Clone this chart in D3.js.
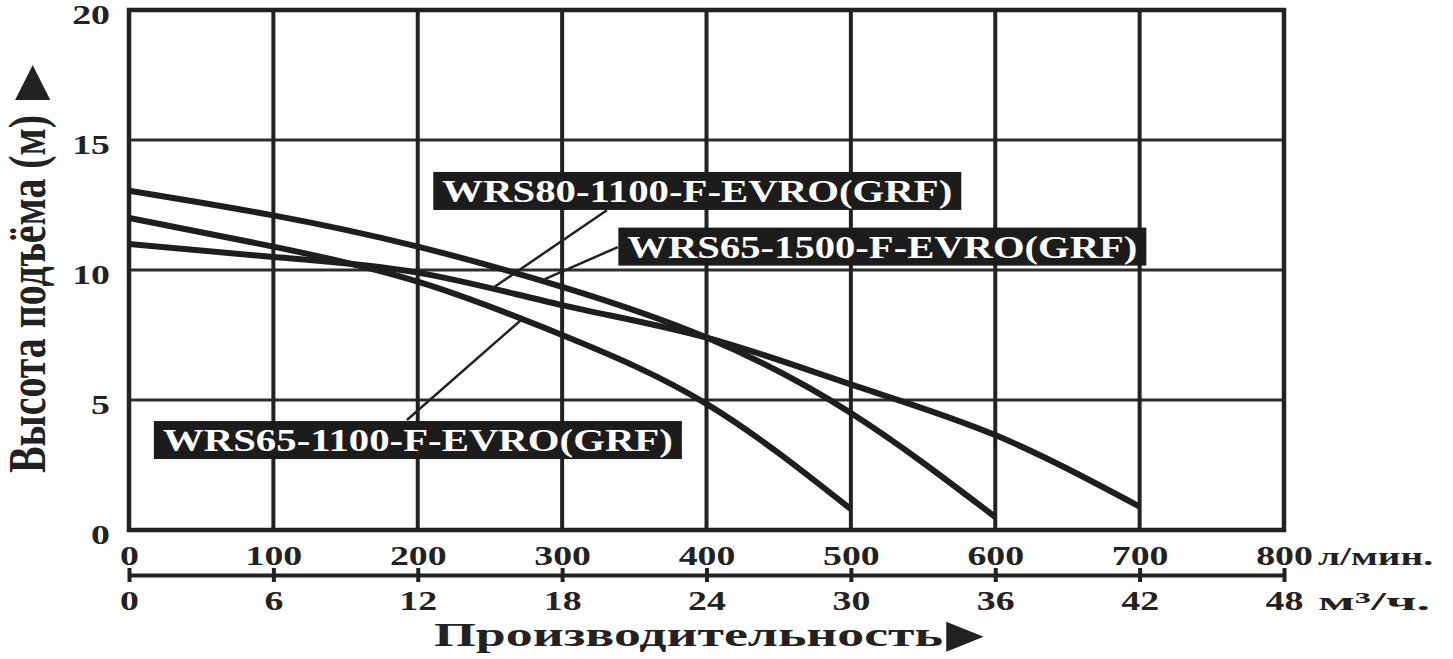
<!DOCTYPE html>
<html>
<head>
<meta charset="utf-8">
<script src="https://cdn.jsdelivr.net/npm/d3@7/dist/d3.min.js"></script>
<style>
  html, body { margin: 0; padding: 0; background: #fff; }
  svg { display: block; }
  text { font-family: "Liberation Serif", "Times New Roman", serif; font-weight: bold; }
</style>
</head>
<body>
<svg id="chart" width="1453" height="659"></svg>
<script>
// ---------------- DATA ----------------
const flowTicksLmin = [0, 100, 200, 300, 400, 500, 600, 700, 800];
const flowTicksM3h  = [0, 6, 12, 18, 24, 30, 36, 42, 48];
const headTicks     = [0, 5, 10, 15, 20];

const seriesNames = ["WRS80-1100-F-EVRO(GRF)", "WRS65-1500-F-EVRO(GRF)", "WRS65-1100-F-EVRO(GRF)"];

const flow_WRS80_1100 = [0, 100, 200, 300, 400, 500, 600, 700];
const head_WRS80_1100 = [11.0, 10.5, 9.9, 8.65, 7.4, 5.6, 3.65, 0.9];

const flow_WRS65_1500 = [0, 100, 200, 300, 400, 500, 600];
const head_WRS65_1500 = [13.05, 12.1, 10.9, 9.35, 7.4, 4.5, 0.5];

const flow_WRS65_1100 = [0, 100, 200, 300, 400, 500];
const head_WRS65_1100 = [12.0, 10.9, 9.55, 7.5, 4.85, 0.8];

const unitLmin = "л/мин.";
const unitM3h  = "м³/ч.";
const xTitle = "Производительность";
const xArrow = "►";
const yTitle = "Высота подъёма (м)";
const yArrow = "▲";

// ---------------- LAYOUT ----------------
(function () {
const svg = d3.select("#chart");
const pLeft = 129, pRight = 1284, pTop = 10, pBottom = 530;
const ink = "#222";
const SX = 1.4; // horizontal stretch of the original lettering

const x  = d3.scaleLinear().domain([0, 800]).range([pLeft, pRight]);
const x2 = d3.scaleLinear().domain([0, 48]).range([pLeft, pRight]);
const y  = d3.scaleLinear().domain([0, 20]).range([pBottom, pTop]);

// grid
const grid = svg.append("g");
grid.selectAll("line.h").data(headTicks).join("line")
  .attr("x1", pLeft).attr("x2", pRight)
  .attr("y1", d => y(d)).attr("y2", d => y(d))
  .attr("stroke", "#2e2e2e").attr("stroke-width", 3);
grid.selectAll("line.v").data(flowTicksLmin).join("line")
  .attr("y1", pTop).attr("y2", pBottom)
  .attr("x1", d => x(d)).attr("x2", d => x(d))
  .attr("stroke", ink).attr("stroke-width", 4);
grid.append("rect")
  .attr("x", pLeft).attr("y", pTop)
  .attr("width", pRight - pLeft).attr("height", pBottom - pTop)
  .attr("fill", "none").attr("stroke", ink).attr("stroke-width", 4.5);

// curves
const allSeries = [
  flow_WRS80_1100.map((f, i) => [f, head_WRS80_1100[i]]),
  flow_WRS65_1500.map((f, i) => [f, head_WRS65_1500[i]]),
  flow_WRS65_1100.map((f, i) => [f, head_WRS65_1100[i]])
];
const line = d3.line().x(d => x(d[0])).y(d => y(d[1])).curve(d3.curveNatural);
svg.append("g").selectAll("path").data(allSeries).join("path")
  .attr("d", line)
  .attr("fill", "none").attr("stroke", "#1e1e1e").attr("stroke-width", 6);

// annotations (label centre and leader line in data units)
const annotations = [
  { name: seriesNames[0], cx: 393.6, cy: 13.04, from: [331, 12.3],  to: [250, 9.23] },
  { name: seriesNames[1], cx: 521.8, cy: 10.9,  from: [338.6, 10.88], to: [288, 9.65] },
  { name: seriesNames[2], cx: 200.1, cy: 3.46,  from: [192.5, 4.23], to: [271, 8.05] }
];
const ann = svg.append("g");
ann.selectAll("line").data(annotations).join("line")
  .attr("x1", d => x(d.from[0])).attr("y1", d => y(d.from[1]))
  .attr("x2", d => x(d.to[0])).attr("y2", d => y(d.to[1]))
  .attr("stroke", ink).attr("stroke-width", 2.5);
const boxW = 528, boxH = 38;
const lab = ann.selectAll("g.lab").data(annotations).join("g")
  .attr("transform", d => `translate(${x(d.cx)},${y(d.cy)})`);
lab.append("rect")
  .attr("x", -boxW / 2).attr("y", -boxH / 2)
  .attr("width", boxW).attr("height", boxH)
  .attr("fill", "#1c1c1c");
lab.append("text")
  .attr("text-anchor", "middle")
  .attr("y", 11)
  .attr("font-size", 31)
  .attr("fill", "#fff")
  .attr("textLength", 510).attr("lengthAdjust", "spacingAndGlyphs")
  .text(d => d.name);

// y axis
const yAxis = svg.append("g").attr("transform", `translate(${pLeft},0)`)
  .call(d3.axisLeft(y).tickValues(headTicks).tickSize(0).tickPadding(19));
yAxis.select(".domain").remove();
yAxis.selectAll("text")
  .attr("font-size", 27)
  .attr("fill", ink)
  .attr("x", -19 / SX).attr("dy", 13)
  .attr("transform", `scale(${SX},1)`);

// x axis (л/мин)
const xAxis = svg.append("g").attr("transform", `translate(0,${pBottom})`)
  .call(d3.axisBottom(x).tickValues(flowTicksLmin).tickSize(0));
xAxis.select(".domain").remove();
xAxis.selectAll("text")
  .attr("font-size", 27)
  .attr("fill", ink)
  .attr("y", 35).attr("dy", 0)
  .attr("transform", `scale(${SX},1)`);

// x axis (м3/ч)
const x2y = 575;
const x2Axis = svg.append("g").attr("transform", `translate(0,${x2y})`)
  .call(d3.axisBottom(x2).tickValues(flowTicksM3h).tickSize(7).tickSizeOuter(0));
x2Axis.select(".domain").attr("stroke", ink).attr("stroke-width", 4);
x2Axis.selectAll(".tick line").attr("y1", -7).attr("y2", 7).attr("stroke", ink).attr("stroke-width", 4);
x2Axis.selectAll("text")
  .attr("font-size", 27)
  .attr("fill", ink)
  .attr("y", 35).attr("dy", 0)
  .attr("transform", `scale(${SX},1)`);

// units
svg.append("text").attr("x", 1318).attr("y", 565)
  .attr("font-size", 25).attr("fill", ink)
  .attr("textLength", 115).attr("lengthAdjust", "spacingAndGlyphs")
  .text(unitLmin);
svg.append("text").attr("x", 1318).attr("y", 610)
  .attr("font-size", 25).attr("fill", ink)
  .attr("textLength", 112).attr("lengthAdjust", "spacingAndGlyphs")
  .text(unitM3h);

// titles
svg.append("text").attr("x", 434).attr("y", 646)
  .attr("font-size", 34).attr("fill", ink)
  .attr("textLength", 509).attr("lengthAdjust", "spacingAndGlyphs")
  .text(xTitle);
svg.append("text")
  .attr("transform", "translate(934,651) scale(1.25,1)")
  .attr("font-size", 50).attr("fill", ink)
  .text(xArrow);
svg.append("text")
  .attr("transform", `translate(45,473) scale(${SX},1) rotate(-90)`)
  .attr("font-size", 38).attr("fill", ink)
  .attr("textLength", 358).attr("lengthAdjust", "spacingAndGlyphs")
  .text(yTitle);
svg.append("text").attr("x", 3).attr("y", 100)
  .attr("font-size", 60).attr("fill", ink)
  .text(yArrow);
})();
</script>
</body>
</html>
